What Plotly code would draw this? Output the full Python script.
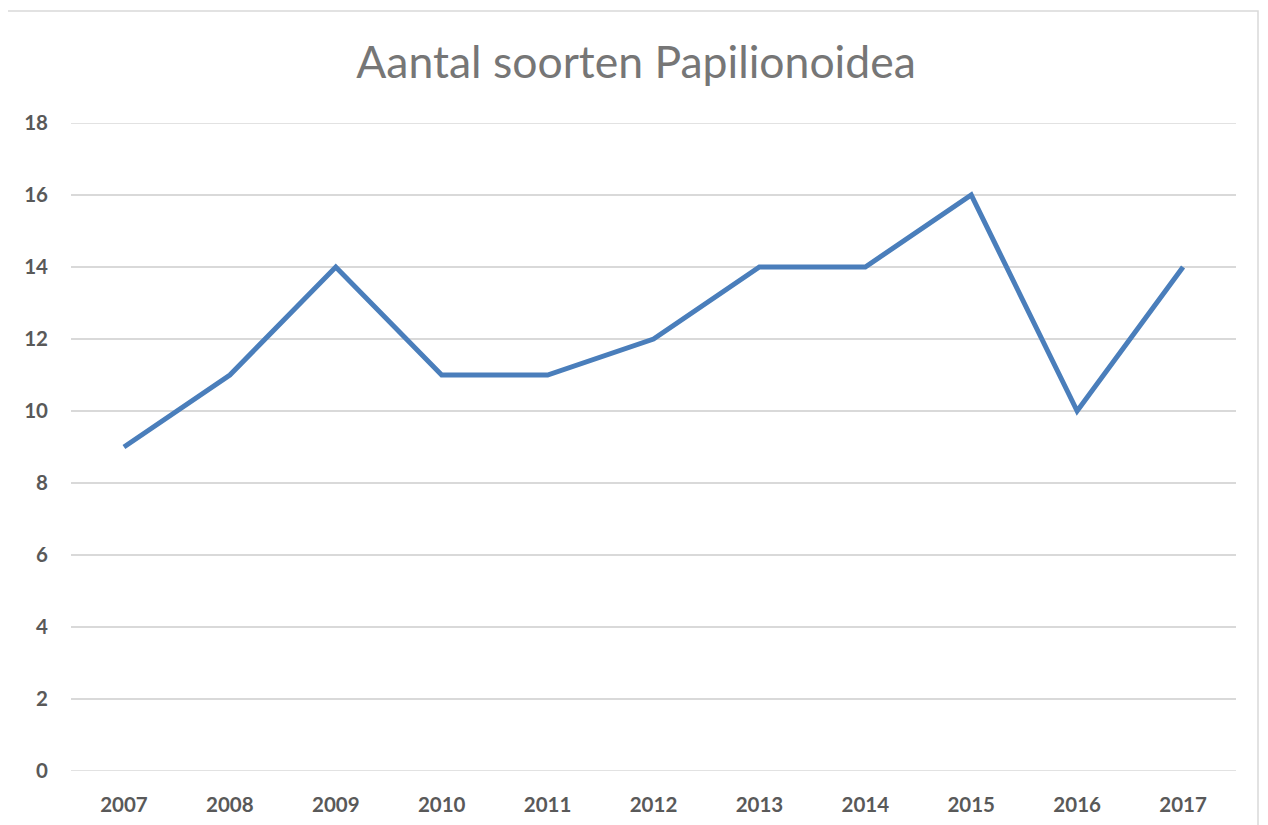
import plotly.graph_objects as go

years = ["2007", "2008", "2009", "2010", "2011", "2012", "2013", "2014", "2015", "2016", "2017"]
species = [9, 11, 14, 11, 11, 12, 14, 14, 16, 10, 14]
y_ticks = [0, 2, 4, 6, 8, 10, 12, 14, 16, 18]
title_text = "Aantal soorten Papilionoidea"

OFF = 8  # page body margin
W, H = 1268, 825
L, R, T, B = 71 - OFF, W - (1236 - OFF), 123 - OFF, H - (771 - OFF)
pw, ph = W - L - R, H - T - B

fig = go.Figure()
fig.add_trace(go.Scatter(
    x=years, y=species, mode="lines",
    line=dict(color="#4a7ebb", width=5),
    hoverinfo="x+y", showlegend=False,
))

def px_x(p):
    return (p - OFF - L) / pw

def px_y(p):
    return (H - B - (p - OFF)) / ph

fig.add_shape(type="rect", xref="paper", yref="paper",
              x0=px_x(7), x1=px_x(1258), y0=px_y(845), y1=px_y(11),
              line=dict(color="#d9d9d9", width=1.5), layer="below")
for v in (y_ticks[0], y_ticks[-1]):
    fig.add_shape(type="line", xref="paper", yref="y", x0=0, x1=1, y0=v, y1=v,
                  line=dict(color="#d9d9d9", width=1.5), layer="below")

fig.update_layout(
    width=W, height=H,
    margin=dict(l=L, r=R, t=T, b=B),
    paper_bgcolor="white", plot_bgcolor="white",
    title=dict(text=title_text, x=(636 - OFF) / W, xanchor="center", xref="container",
               y=(H - (62 - OFF)) / H, yanchor="middle",
               font=dict(family="Lato", size=44.5, color="#767676")),
    font=dict(family="Lato", color="#595959"),
)
fig.update_xaxes(
    type="category", range=[-0.5, 10.5],
    showgrid=False, zeroline=False, showline=False, ticks="",
    tickfont=dict(size=20.5, color="#595959", weight="bold"),
    ticklabelstandoff=19,
)
fig.update_yaxes(
    range=[0, 18], tickvals=y_ticks, ticktext=[str(v) for v in y_ticks],
    showgrid=True, gridcolor="#d9d9d9", gridwidth=1.5,
    zeroline=False, showline=False, ticks="",
    tickfont=dict(size=20.5, color="#595959", weight="bold"),
    ticklabelstandoff=22,
)
fig.write_html("out.html")
